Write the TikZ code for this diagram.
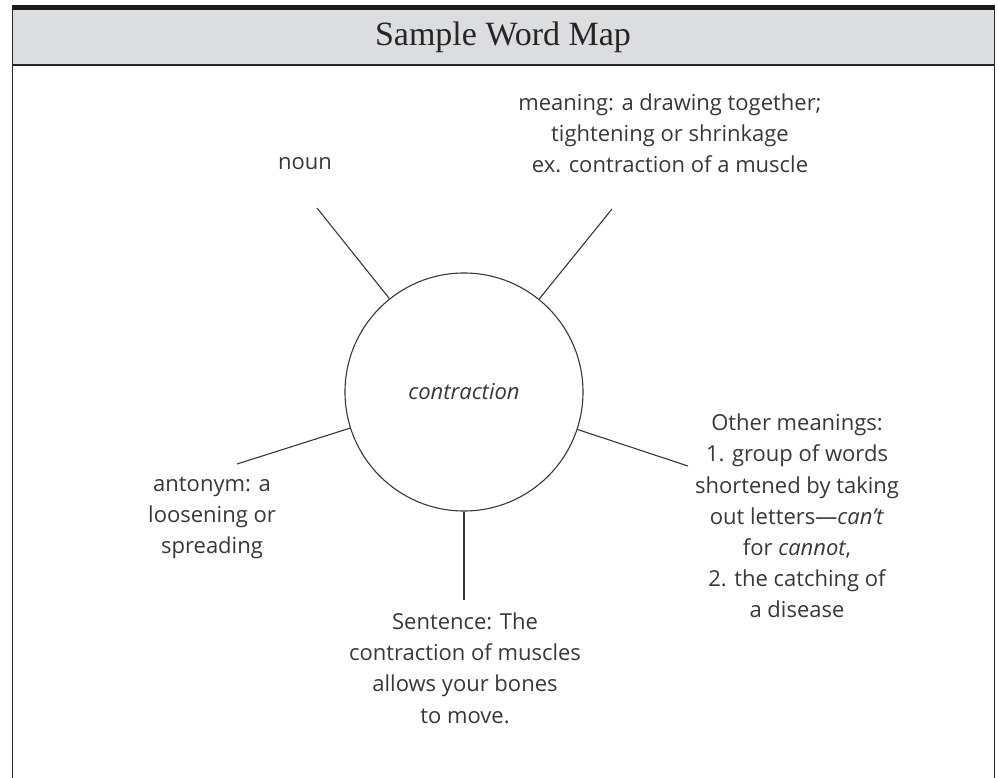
\documentclass[tikz,border=0pt]{standalone}
\usepackage{fontspec}
\setmainfont{Open Sans}
\newfontfamily\titlefont{Liberation Serif}
\definecolor{ink}{HTML}{383838}
\definecolor{headgray}{HTML}{DCDDDF}
\begin{document}
\begin{tikzpicture}[x=1pt,y=-1pt,
  lbl/.style={text=ink, align=center, inner sep=0pt, font=\fontsize{22}{31.2}\selectfont},
  spoke/.style={draw=ink, line width=1.1pt},
  hub/.style={circle, draw=ink, line width=1.1pt, minimum size=238pt, inner sep=0pt, text=ink, font=\fontsize{22}{26}\selectfont\itshape},
  frameline/.style={line width=1.5pt, draw=black!85}]
\useasboundingbox (0,0) rectangle (997,778);
\fill[white] (0,0) rectangle (997,778);
\fill[headgray] (12,10) rectangle (995,65);
\fill[black!90] (12,5) rectangle (995,10);
\draw[frameline, line width=1.3pt] (12,65) -- (995,65);
\draw[frameline] (12.7,5) -- (12.7,778) (994.3,5) -- (994.3,778);
\node[font=\titlefont\fontsize{34}{40}\selectfont, text=black!85, inner sep=0pt] (title) at (503,37) {Sample Word Map};

\node[hub] (hubc) at (464,392) {contraction};

\coordinate (e1) at (317,208);
\coordinate (e2) at (612,209);
\coordinate (e3) at (237,464);
\coordinate (e4) at (688,466);
\coordinate (e5) at (464,600);

\node[lbl] (noun) at (305,164) {noun};
\node[lbl] (meaning) at (670,133) {meaning: a drawing together;\\tightening or shrinkage\\ex. contraction of a muscle};
\node[lbl] (anto) at (212,518) {antonym: a\\loosening or\\spreading};
\node[lbl] (other) at (797,516) {Other meanings:\\1. group of words\\shortened by taking\\out letters—\textit{can’t}\\for \textit{cannot},\\2. the catching of\\a disease};
\node[lbl] (sent) at (465,668) {Sentence: The\\contraction of muscles\\allows your bones\\to move.};

\draw[spoke] (hubc) -- (e1);
\draw[spoke] (hubc) -- (e2);
\draw[spoke] (hubc) -- (e3);
\draw[spoke] (hubc) -- (e4);
\draw[spoke] (hubc) -- (e5);
\end{tikzpicture}
\end{document}
